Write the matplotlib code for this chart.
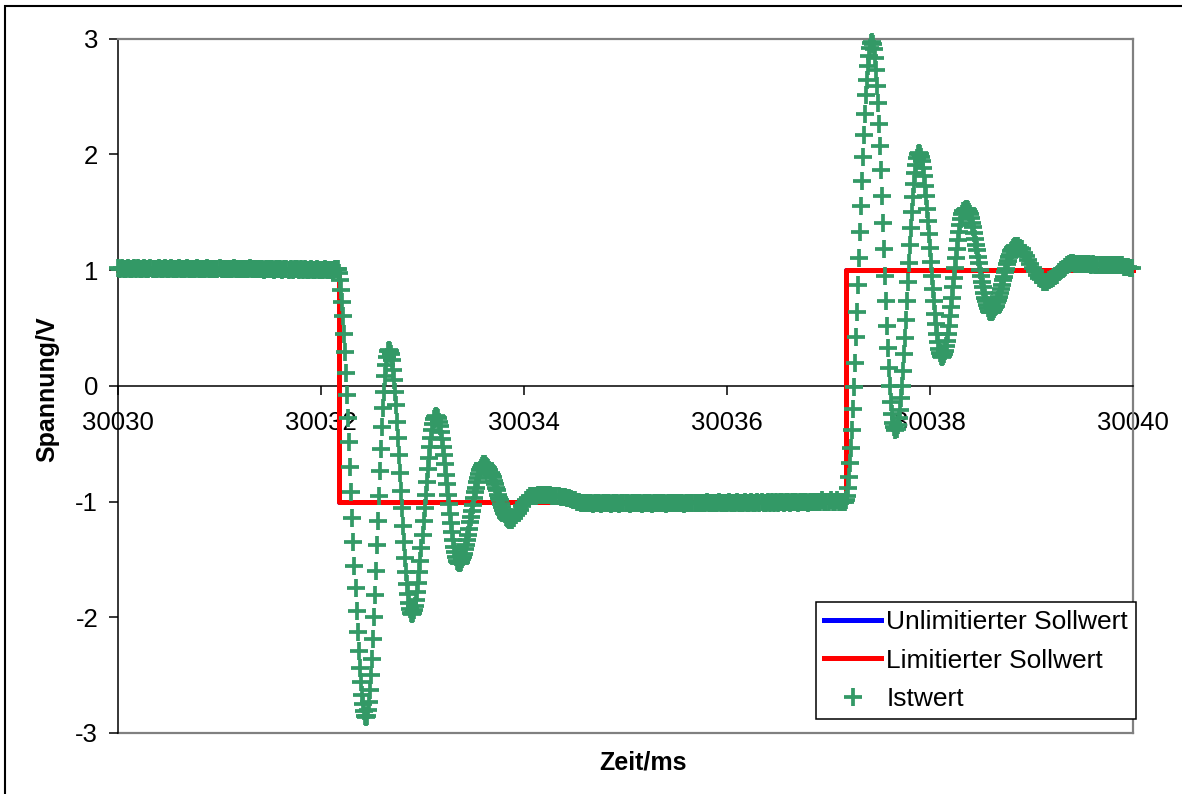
import numpy as np
import matplotlib.pyplot as plt
from matplotlib.patches import Rectangle

plt.rcParams['font.family'] = ['Liberation Sans', 'DejaVu Sans']
plt.rcParams['axes.unicode_minus'] = False

# Sollwert (step), both series carry the same values
soll_t = [30030.0, 30032.18, 30032.18, 30037.17, 30037.17, 30040.0]
unlim_soll = [1, 1, -1, -1, 1, 1]
lim_soll = [1, 1, -1, -1, 1, 1]

# Istwert, stored block-wise: start time (ms), sample step (ms), values (V)
flat_hi_start, flat_hi_step = 30030.00, 0.02
flat_hi = [
    1.02, 1.01, 1.02, 1.01, 1.01, 1.02, 1.01, 1.01, 1.02, 1.01, 1.02, 1.01,
    1.01, 1.02, 1.01, 1.01, 1.02, 1.01, 1.01, 1.01, 1.02, 1.01, 1.01, 1.02,
    1.01, 1.01, 1.02, 1.01, 1.01, 1.01, 1.02, 1.01, 1.01, 1.01, 1.02, 1.01,
    1.01, 1.01, 1.01, 1.02, 1.01, 1.01, 1.01, 1.01, 1.02, 1.01, 1.01, 1.01,
    1.01, 1.01, 1.02, 1.01, 1.01, 1.01, 1.01, 1.01, 1.01, 1.02, 1.01, 1.01,
    1.01, 1.01, 1.01, 1.01, 1.01, 1.02, 1.01, 1.01, 1.01, 1.01, 1.01, 1.01,
    1.00, 1.01, 1.01, 1.01, 1.01, 1.00, 1.01, 1.01, 1.01, 1.00, 1.01, 1.01,
    1.00, 1.01, 1.00, 1.01, 1.01, 1.00, 1.01, 1.00, 1.01, 1.00, 1.00, 1.01,
    1.00, 1.00, 1.01, 1.00, 1.00, 1.00, 1.01, 1.00, 1.00, 1.00, 1.00, 1.01,
]

fall_start, fall_step = 30032.16, 0.01
fall = [
    1.01, 1.01, 0.97, 0.91, 0.83, 0.72, 0.60, 0.45, 0.29, 0.11,
    -0.08, -0.28, -0.49, -0.70, -0.92, -1.14, -1.35, -1.56, -1.75, -1.95,
    -2.13, -2.29, -2.44, -2.56, -2.67, -2.75, -2.81, -2.85, -2.86,
    -2.85, -2.80, -2.73, -2.63, -2.50, -2.36, -2.19, -2.00, -1.81, -1.60,
    -1.38, -1.17, -0.95, -0.74, -0.55, -0.36, -0.19, -0.05, 0.08, 0.18,
    0.25, 0.30, 0.31,
    0.30, 0.27, 0.22, 0.14, 0.05, -0.05, -0.17, -0.31, -0.45, -0.60,
    -0.75, -0.91, -1.06, -1.21, -1.35, -1.49, -1.61, -1.71, -1.80, -1.88,
    -1.93, -1.96, -1.97,
    -1.96, -1.94, -1.90, -1.85, -1.78, -1.70, -1.61, -1.51, -1.40, -1.29,
    -1.17, -1.06, -0.94, -0.83, -0.72, -0.62, -0.53, -0.45, -0.38, -0.33,
    -0.29, -0.27, -0.26,
    -0.27, -0.28, -0.31, -0.35, -0.40, -0.46, -0.53, -0.60, -0.68, -0.77,
    -0.85, -0.94, -1.02, -1.11, -1.19, -1.26, -1.33, -1.39, -1.44, -1.48,
    -1.51, -1.52, -1.53,
    -1.53, -1.52, -1.50, -1.48, -1.45, -1.41, -1.38, -1.33, -1.29, -1.24,
    -1.18, -1.13, -1.08, -1.03, -0.97, -0.92, -0.88, -0.83, -0.80, -0.76,
    -0.73, -0.71, -0.69, -0.68, -0.68,
    -0.68, -0.69, -0.70, -0.71, -0.73, -0.75, -0.77, -0.79, -0.82, -0.85,
    -0.88, -0.90, -0.94, -0.97, -0.99, -1.02, -1.05, -1.07, -1.10, -1.11,
    -1.13, -1.14, -1.15, -1.16, -1.16,
]

flat_lo_start, flat_lo_step = 30033.88, 0.02
flat_lo = [
    -1.16, -1.14, -1.12, -1.10, -1.07, -1.04, -1.01, -0.99, -0.97, -0.95, -0.95,
    -0.95, -0.95, -0.94, -0.94, -0.94, -0.94, -0.94, -0.94, -0.94, -0.95, -0.95,
    -0.95, -0.95, -0.96, -0.96, -0.96,
    -0.97, -0.97, -0.98, -0.99, -0.99, -1.00, -1.00, -1.01, -1.01, -1.01, -1.01,
    -1.01, -1.01, -1.02, -1.01, -1.01, -1.01, -1.02, -1.01, -1.01, -1.01, -1.01, -1.02, -1.01, -1.01,
    -1.01, -1.02, -1.01, -1.01, -1.01, -1.01, -1.02, -1.01, -1.01, -1.01, -1.01, -1.01, -1.02, -1.01,
    -1.01, -1.01, -1.01, -1.02, -1.01, -1.01, -1.01, -1.01, -1.01, -1.01, -1.02, -1.01, -1.01, -1.01,
    -1.01, -1.01, -1.01, -1.01, -1.01, -1.02, -1.01, -1.01, -1.01, -1.01, -1.01, -1.01, -1.01, -1.01,
    -1.01, -1.01, -1.00, -1.01, -1.01, -1.01, -1.01, -1.01, -1.00, -1.01, -1.01, -1.01, -1.01, -1.00,
    -1.01, -1.01, -1.01, -1.00, -1.01, -1.01, -1.01, -1.00, -1.01, -1.01, -1.00, -1.01, -1.01, -1.00,
    -1.01, -1.00, -1.01, -1.01, -1.00, -1.01, -1.00, -1.01, -1.00, -1.01, -1.00, -1.00, -1.01, -1.00,
    -1.00, -1.01, -1.00, -1.00, -1.00, -1.01, -1.00, -1.00, -1.00, -1.00, -1.01, -1.00, -1.00, -1.00,
    -1.00, -1.00, -1.00, -0.99, -1.00, -1.00, -1.00, -0.99, -1.00, -1.00, -0.99, -1.00, -1.00, -1.00,
]

rise_start, rise_step = 30037.16, 0.01
rise = [
    -1.00, -0.99, -0.95, -0.88, -0.79, -0.67, -0.54, -0.38, -0.20, -0.01,
    0.20, 0.42, 0.64, 0.87, 1.10, 1.33, 1.55, 1.77, 1.98, 2.17,
    2.35, 2.51, 2.64, 2.76, 2.85, 2.92, 2.96, 2.97,
    2.95, 2.91, 2.83, 2.73, 2.59, 2.44, 2.26, 2.07, 1.86, 1.64,
    1.41, 1.18, 0.95, 0.73, 0.52, 0.33, 0.15, 0.00, -0.14, -0.24,
    -0.32, -0.36, -0.38,
    -0.37, -0.34, -0.28, -0.21, -0.11, 0.00, 0.13, 0.27, 0.41, 0.57,
    0.73, 0.90, 1.06, 1.22, 1.36, 1.50, 1.63, 1.74, 1.84, 1.91,
    1.97, 2.00, 2.01,
    2.00, 1.98, 1.94, 1.88, 1.81, 1.73, 1.64, 1.53, 1.42, 1.31,
    1.19, 1.07, 0.95, 0.84, 0.73, 0.62, 0.53, 0.45, 0.38, 0.32,
    0.28, 0.26, 0.25,
    0.26, 0.27, 0.30, 0.34, 0.39, 0.45, 0.52, 0.60, 0.68, 0.76,
    0.85, 0.93, 1.02, 1.10, 1.18, 1.26, 1.33, 1.39, 1.44, 1.48,
    1.51, 1.52, 1.53,
    1.53, 1.52, 1.50, 1.48, 1.45, 1.41, 1.37, 1.32, 1.27, 1.22,
    1.17, 1.11, 1.06, 1.00, 0.95, 0.90, 0.85, 0.80, 0.76, 0.73,
    0.70, 0.67, 0.65, 0.64, 0.64,
    0.64, 0.65, 0.66, 0.68, 0.69, 0.72, 0.74, 0.77, 0.80, 0.84,
    0.87, 0.91, 0.94, 0.98, 1.01, 1.05, 1.08, 1.11, 1.13, 1.16,
    1.17, 1.19, 1.20, 1.21, 1.21,
]

flat_end_start, flat_end_step = 30038.87, 0.02
flat_end = [
    1.21, 1.19, 1.18, 1.15, 1.12, 1.09, 1.05, 1.02, 0.99, 0.96, 0.93, 0.92, 0.90, 0.90,
    0.90, 0.91, 0.92, 0.93, 0.95, 0.96, 0.98, 1.00, 1.01, 1.03, 1.04, 1.05, 1.06, 1.06,
    1.05, 1.05, 1.05, 1.05, 1.05, 1.05, 1.05, 1.05, 1.04, 1.05, 1.04, 1.04, 1.04, 1.04,
    1.04, 1.04, 1.04, 1.04, 1.04, 1.04, 1.04, 1.04, 1.04, 1.04, 1.03, 1.03, 1.03, 1.02, 1.02,
]

ist_blocks = [
    (flat_hi_start, flat_hi_step, flat_hi),
    (fall_start, fall_step, fall),
    (flat_lo_start, flat_lo_step, flat_lo),
    (rise_start, rise_step, rise),
    (flat_end_start, flat_end_step, flat_end),
]
ist_t = np.concatenate([t0 + dt * np.arange(len(v)) for t0, dt, v in ist_blocks])
ist_v = np.concatenate([np.array(v) for _, _, v in ist_blocks])

W, H = 1182, 794
fig = plt.figure(figsize=(W / 100, H / 100), dpi=100)
ax = fig.add_axes([118 / W, 1 - 733 / H, (1133 - 118) / W, (733 - 38.5) / H])

ax.plot(soll_t, unlim_soll, color='#0000FF', lw=3.6, label='Unlimitierter Sollwert',
        solid_capstyle='projecting', clip_on=False, zorder=2)
ax.plot(soll_t, lim_soll, color='#FF0000', lw=3.6, label='Limitierter Sollwert',
        solid_capstyle='projecting', clip_on=False, zorder=3)
ax.plot(ist_t, ist_v, ls='none', marker='+', ms=12.5, mew=2.7, color='#339966',
        label='Istwert', clip_on=False, zorder=4)

ax.set_xlim(30030, 30040)
ax.set_ylim(-3, 3)

# frame: gray top/right/bottom border, black y axis and x axis at zero
for side in ['top', 'right']:
    ax.spines[side].set_color('#808080')
    ax.spines[side].set_linewidth(1.6)
ax.spines['left'].set_color('black')
ax.spines['left'].set_linewidth(1.1)
ax.spines['bottom'].set_position(('data', 0))
ax.spines['bottom'].set_color('black')
ax.spines['bottom'].set_linewidth(1.1)
ax.plot([0, 1], [0, 0], transform=ax.transAxes, color='#808080', lw=1.6, clip_on=False, zorder=1)

xt = list(range(30030, 30041, 2))
ax.set_xticks(xt)
ax.set_xticklabels([str(v) for v in xt])
ax.set_yticks(range(-3, 4))
ax.set_yticklabels([str(v) for v in range(-3, 4)])
ax.tick_params(axis='x', direction='out', length=6.3, width=1.1, pad=12, labelsize=18.5)
ax.tick_params(axis='y', direction='out', length=6.3, width=1.1, pad=8, labelsize=18.5)

fig.text(643 / W, 1 - 763 / H, 'Zeit/ms', ha='center', va='center', fontsize=18, fontweight='bold')
fig.text(47 / W, 1 - 389 / H, 'Spannung/V', ha='center', va='center', rotation=90,
         fontsize=18, fontweight='bold')

leg = ax.legend(loc='lower right', bbox_to_anchor=(1136 / W, 1 - 719 / H),
                bbox_transform=fig.transFigure, borderaxespad=0, fontsize=19,
                fancybox=False, framealpha=1, edgecolor='black', numpoints=1,
                handlelength=2.15, handletextpad=0.2, labelspacing=0.55, borderpad=0.3)
leg.get_frame().set_linewidth(1.1)
leg.set_zorder(10)

# outer chart-area frame (cut off at right and bottom)
fig.add_artist(Rectangle((5 / W, -0.5), 2, 0.5 + 1 - 6 / H, transform=fig.transFigure,
                         fill=False, edgecolor='black', lw=1.5))

fig.savefig('out.png', dpi=100)
